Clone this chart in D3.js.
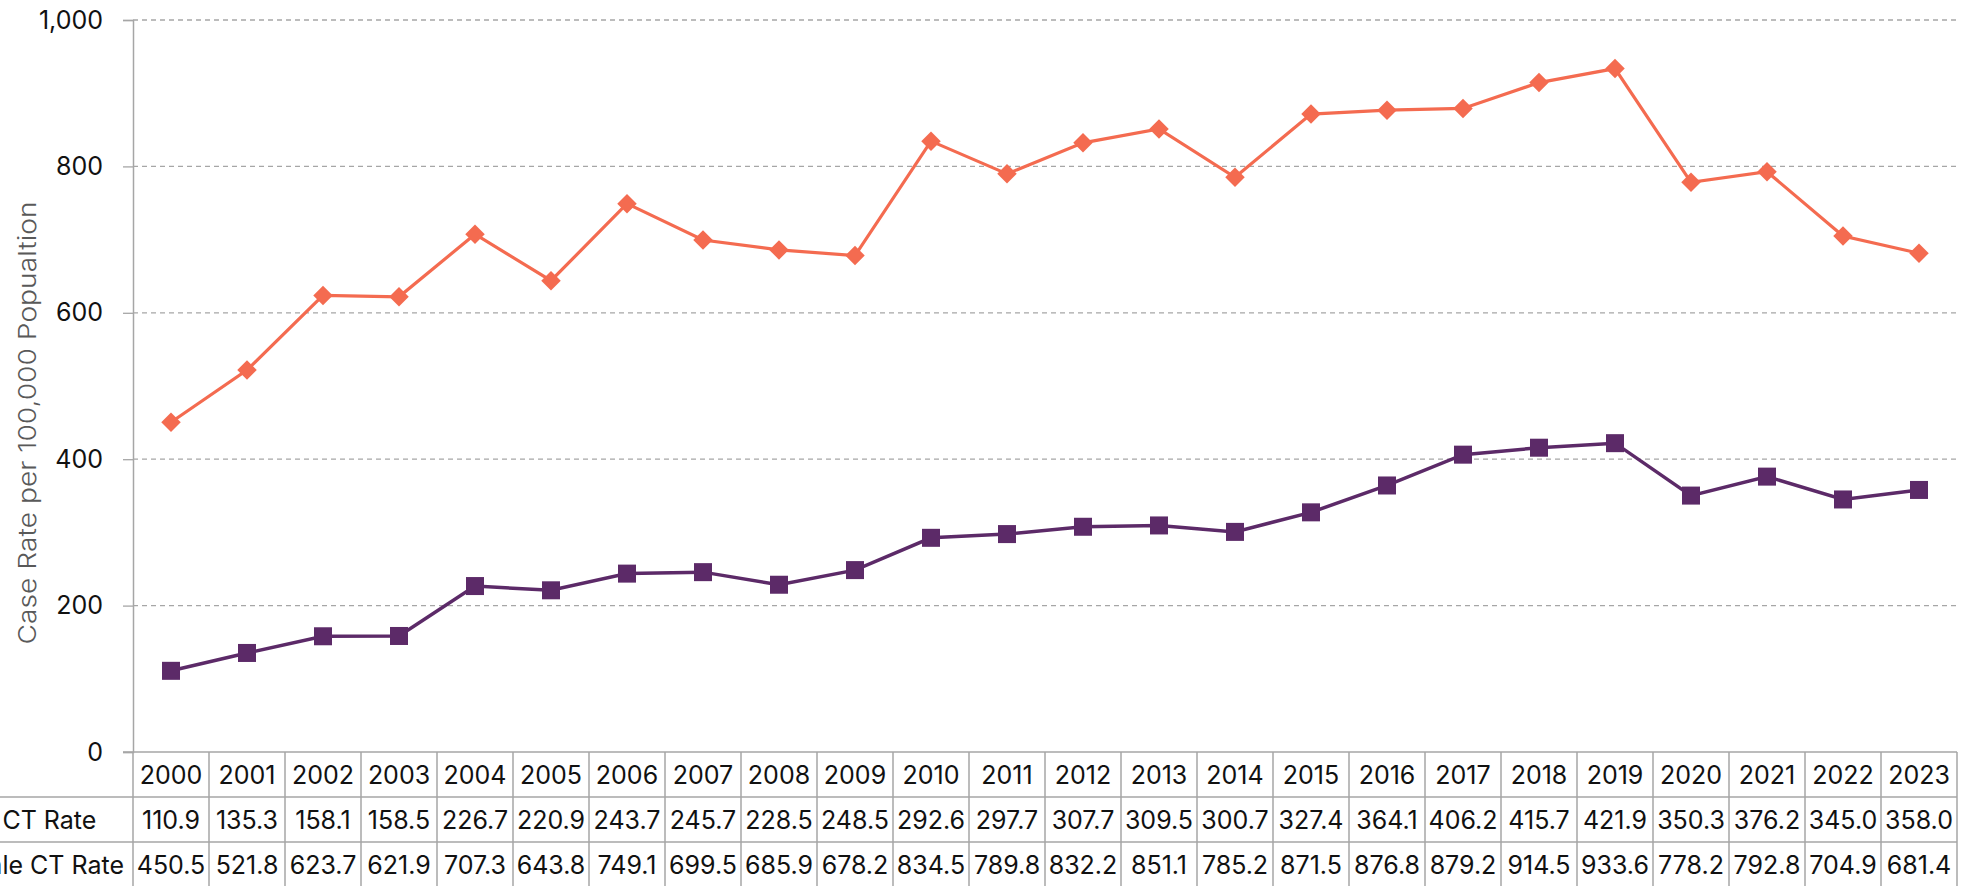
<!DOCTYPE html>
<html>
<head>
<meta charset="utf-8">
<script src="https://cdn.jsdelivr.net/npm/d3@7"></script>
<style>
  body { margin: 0; background: #fff; }
  svg { display: block; font-family: Inter, "Noto Sans", sans-serif; }
</style>
</head>
<body>
<svg id="chart"></svg>
<script>
// data
const years = ['2000','2001','2002','2003','2004','2005','2006','2007','2008','2009','2010','2011',
  '2012','2013','2014','2015','2016','2017','2018','2019','2020','2021','2022','2023'];
const maleRate = [110.9,135.3,158.1,158.5,226.7,220.9,243.7,245.7,228.5,248.5,292.6,297.7,
  307.7,309.5,300.7,327.4,364.1,406.2,415.7,421.9,350.3,376.2,345.0,358.0];
const femaleRate = [450.5,521.8,623.7,621.9,707.3,643.8,749.1,699.5,685.9,678.2,834.5,789.8,
  832.2,851.1,785.2,871.5,876.8,879.2,914.5,933.6,778.2,792.8,704.9,681.4];
const yTicks = [0, 200, 400, 600, 800, 1000];
const seriesNames = ['Male CT Rate', 'Female CT Rate'];

function drawChart() {
  const W = 1970, H = 886;
  const left = 133, right = 1957, top = 20, bottom = 752;
  const rowH = 45;
  const grey = '#a6a6a6';
  const fs = '25px';

  const svg = d3.select('#chart').attr('width', W).attr('height', H);

  const x = d3.scaleBand().domain(years).range([left, right]);
  const y = d3.scaleLinear().domain([0, 1000]).range([bottom, top]);

  // gridlines
  svg.append('g')
    .selectAll('line')
    .data(yTicks.filter(d => d > 0))
    .enter().append('line')
    .attr('x1', left).attr('x2', right)
    .attr('y1', d => y(d)).attr('y2', d => y(d))
    .attr('stroke', grey).attr('stroke-width', 1.3)
    .attr('stroke-dasharray', '5,4');

  // y axis
  const yAxis = svg.append('g')
    .attr('transform', `translate(${left},0)`)
    .call(d3.axisLeft(y).tickValues(yTicks).tickSize(10).tickPadding(20)
      .tickFormat(d3.format(',')));
  yAxis.select('.domain').attr('stroke', grey).attr('stroke-width', 1.5);
  yAxis.selectAll('.tick line').attr('stroke', grey).attr('stroke-width', 1.3);
  yAxis.selectAll('.tick text')
    .attr('fill', '#111').style('font-size', fs).style('font-family', 'Inter');

  // extend y axis line through the table
  svg.append('line')
    .attr('x1', left).attr('x2', left).attr('y1', bottom).attr('y2', H)
    .attr('stroke', grey).attr('stroke-width', 1.5);

  // axis title
  svg.append('text')
    .attr('transform', 'translate(29,423) rotate(-90)')
    .attr('text-anchor', 'middle')
    .attr('dominant-baseline', 'middle')
    .attr('fill', '#595959')
    .attr('textLength', 443)
    .attr('lengthAdjust', 'spacingAndGlyphs')
    .style('font-size', '24px')
    .style('font-weight', 300)
    .text('Case Rate per 100,000 Popualtion');

  // lines
  const line = d3.line().x((d, i) => x(years[i]) + x.bandwidth() / 2).y(d => y(d));

  svg.append('path').datum(femaleRate)
    .attr('d', line).attr('fill', 'none')
    .attr('stroke', '#f46b50').attr('stroke-width', 3.2);
  svg.append('path').datum(maleRate)
    .attr('d', line).attr('fill', 'none')
    .attr('stroke', '#5c2a68').attr('stroke-width', 3.5);

  // markers
  svg.append('g').selectAll('path')
    .data(femaleRate).enter().append('path')
    .attr('d', d3.symbol().type(d3.symbolSquare).size(190))
    .attr('fill', '#f46b50')
    .attr('transform', (d, i) => `translate(${x(years[i]) + x.bandwidth() / 2},${y(d)}) rotate(45)`);
  svg.append('g').selectAll('rect')
    .data(maleRate).enter().append('rect')
    .attr('x', (d, i) => x(years[i]) + x.bandwidth() / 2 - 9)
    .attr('y', d => y(d) - 9)
    .attr('width', 18).attr('height', 18)
    .attr('fill', '#5c2a68');

  // data table
  const table = svg.append('g');
  const rows = [maleRate, femaleRate];
  // horizontal lines
  [bottom, bottom + rowH, bottom + 2 * rowH, bottom + 3 * rowH].forEach((yy, k) => {
    table.append('line')
      .attr('x1', k === 0 ? left - 10 : 0).attr('x2', right)
      .attr('y1', yy).attr('y2', yy)
      .attr('stroke', grey).attr('stroke-width', 1.5);
  });
  // vertical lines
  table.selectAll('line.col')
    .data(years).enter().append('line')
    .attr('class', 'col')
    .attr('x1', d => x(d) + x.bandwidth()).attr('x2', d => x(d) + x.bandwidth())
    .attr('y1', bottom).attr('y2', H)
    .attr('stroke', grey).attr('stroke-width', 1.5);

  // header years
  table.selectAll('text.year')
    .data(years).enter().append('text')
    .attr('class', 'year')
    .attr('x', d => x(d) + x.bandwidth() / 2)
    .attr('y', bottom + rowH / 2)
    .attr('text-anchor', 'middle').attr('dominant-baseline', 'central')
    .attr('fill', '#111').style('font-size', fs)
    .text(d => d);

  // row labels: left aligned, the longest one ends just before the axis
  const labels = rows.map((vals, r) => table.append('text')
    .attr('y', bottom + rowH * (r + 1) + rowH / 2)
    .attr('text-anchor', 'start').attr('dominant-baseline', 'central')
    .attr('fill', '#111').style('font-size', fs)
    .text(seriesNames[r]));
  const longest = d3.max(labels, t => t.node().getComputedTextLength());
  labels.forEach(t => t.attr('x', 124 - longest));

  rows.forEach((vals, r) => {
    const cy = bottom + rowH * (r + 1) + rowH / 2;
    table.selectAll(null)
      .data(vals).enter().append('text')
      .attr('x', (d, i) => x(years[i]) + x.bandwidth() / 2)
      .attr('y', cy)
      .attr('text-anchor', 'middle').attr('dominant-baseline', 'central')
      .attr('fill', '#111').style('font-size', fs)
      .text(d => d.toFixed(1));
  });
}

drawChart();
</script>
</body>
</html>
